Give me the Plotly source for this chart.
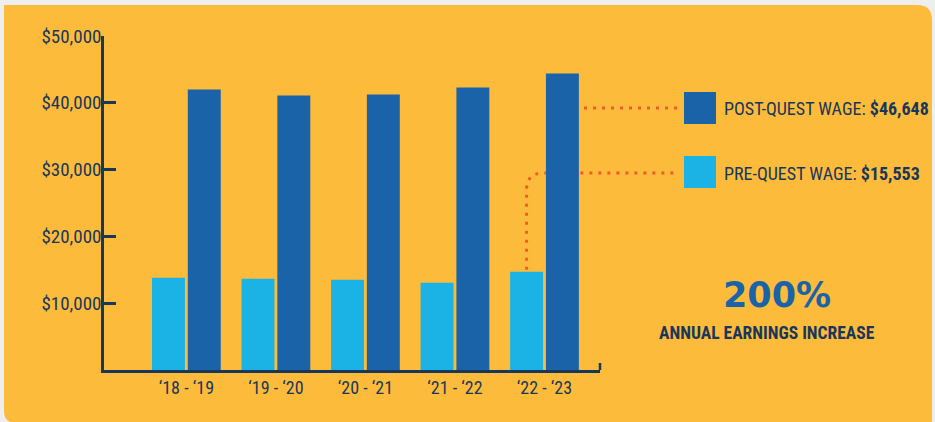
import plotly.graph_objects as go

# ---- data ----
categories = ["\u201818 - \u201819", "\u201819 - \u201820", "\u201820 - \u201821", "\u201821 - \u201822", "\u201822 - \u201823"]
pre_quest = [13800, 13650, 13500, 13050, 14700]
post_quest = [42000, 41100, 41250, 42300, 44400]
y_tickvals = [10000, 20000, 30000, 40000, 50000]
y_ticktext = ["$10,000", "$20,000", "$30,000", "$40,000", "$50,000"]
post_label = "POST-QUEST WAGE: "
post_value = "$46,648"
pre_label = "PRE-QUEST WAGE: "
pre_value = "$15,553"
big_stat = "200%"
big_stat_caption = "ANNUAL EARNINGS INCREASE"

# ---- style ----
W, H = 935, 422
ML, MR, MT, MB = 104, 335, 36, 52
PW, PH = W - ML - MR, H - MT - MB
YMAX = 50000
XR = [-0.92, 4.62]
YELLOW = "#FDBB3C"
LIGHT = "#1BB2E6"
DARK = "#1B63A9"
NAVY = "#18375A"
DOT = "#F15A2C"
COND = "Roboto Condensed, DejaVu Sans Condensed, Roboto, sans-serif"

def px(x):
    return (x - ML) / PW

def py(y):
    return (H - MB - y) / PH

fig = go.Figure()
fig.add_trace(go.Bar(x=categories, y=pre_quest, marker=dict(color=LIGHT, line=dict(width=0)),
                     name="Pre-Quest", hoverinfo="skip"))
fig.add_trace(go.Bar(x=categories, y=post_quest, marker=dict(color=DARK, line=dict(width=0)),
                     name="Post-Quest", hoverinfo="skip"))

shapes = []
# card background
x0, y0, x1, y1 = 4, 5, 932, 423
r1, r2 = 15, 12
card = (f"M {px(x0)},{py(y0)} L {px(x1 - r1)},{py(y0)} Q {px(x1)},{py(y0)} {px(x1)},{py(y0 + r1)} "
        f"L {px(x1)},{py(y1)} L {px(x0 + r2)},{py(y1)} Q {px(x0)},{py(y1)} {px(x0)},{py(y1 - r2)} Z")
shapes.append(dict(type="path", xref="paper", yref="paper", path=card,
                   fillcolor=YELLOW, line=dict(width=0), layer="below"))

# dotted connectors
bar_top_px = H - MB - pre_quest[-1] / YMAX * PH
unit = PW / (XR[1] - XR[0])
light_cx = ML + (4 - XR[0]) * unit - 0.2 * unit
leg_dark_y, leg_light_y = 108, 173
conn = (f"M {px(light_cx)},{py(bar_top_px - 2)} L {px(light_cx)},{py(leg_light_y + 17)} "
        f"Q {px(light_cx)},{py(leg_light_y)} {px(light_cx + 17)},{py(leg_light_y)} L {px(678)},{py(leg_light_y)}")
shapes.append(dict(type="path", xref="paper", yref="paper", path=conn,
                   line=dict(color=DOT, width=3, dash="3px,6px"), layer="below"))
shapes.append(dict(type="line", xref="paper", yref="paper", x0=px(584), x1=px(678),
                   y0=py(leg_dark_y), y1=py(leg_dark_y),
                   line=dict(color=DOT, width=3, dash="3px,6px"), layer="below"))

# legend squares
shapes.append(dict(type="rect", xref="paper", yref="paper", x0=px(684), x1=px(716),
                   y0=py(92), y1=py(124), fillcolor=DARK, line=dict(width=0)))
shapes.append(dict(type="rect", xref="paper", yref="paper", x0=px(684), x1=px(716),
                   y0=py(156), y1=py(188), fillcolor=LIGHT, line=dict(width=0)))
# end tick of x axis
shapes.append(dict(type="line", xref="paper", yref="paper", x0=1, x1=1, y0=0, y1=py(H - MB - 7),
                   line=dict(color=NAVY, width=2.5)))

annotations = [
    dict(x=px(722), y=py(leg_dark_y), xref="paper", yref="paper", xanchor="left", yanchor="middle",
         text=f"{post_label}<b>{post_value}</b>", showarrow=False, font=dict(family=COND, size=18, color=NAVY)),
    dict(x=px(722), y=py(leg_light_y), xref="paper", yref="paper", xanchor="left", yanchor="middle",
         text=f"{pre_label}<b>{pre_value}</b>", showarrow=False, font=dict(family=COND, size=18, color=NAVY)),
    dict(x=px(777), y=py(295), xref="paper", yref="paper", xanchor="center", yanchor="middle",
         text=f"<b>{big_stat}</b>", showarrow=False, font=dict(family="DejaVu Sans", size=35, color=DARK)),
    dict(x=px(767), y=py(333), xref="paper", yref="paper", xanchor="center", yanchor="middle",
         text=f"<b>{big_stat_caption}</b>", showarrow=False, font=dict(family=COND, size=17.5, color=NAVY)),
]

fig.update_layout(
    width=W, height=H,
    margin=dict(l=ML, r=MR, t=MT, b=MB, pad=0),
    paper_bgcolor="#EEEEEE", plot_bgcolor="rgba(0,0,0,0)",
    barmode="group", bargap=0.2, bargroupgap=0.08,
    showlegend=False,
    shapes=shapes, annotations=annotations,
    xaxis=dict(range=XR, showgrid=False, zeroline=False, showline=True, linecolor=NAVY, linewidth=2.5,
               ticks="", tickfont=dict(family=COND, size=18, color=NAVY), fixedrange=True,
               ticklabelstandoff=0),
    yaxis=dict(range=[0, YMAX], showgrid=False, zeroline=False, showline=True, linecolor=NAVY, linewidth=2.5,
               ticks="inside", ticklen=12, tickwidth=2.5, tickcolor=NAVY,
               tickvals=y_tickvals, ticktext=y_ticktext,
               tickfont=dict(family=COND, size=19, color=NAVY), fixedrange=True, ticklabelstandoff=-4),
)

fig.write_html("out.html", config={"displayModeBar": False},
               post_script="document.body.style.margin='0px';document.body.style.overflow='hidden';")
